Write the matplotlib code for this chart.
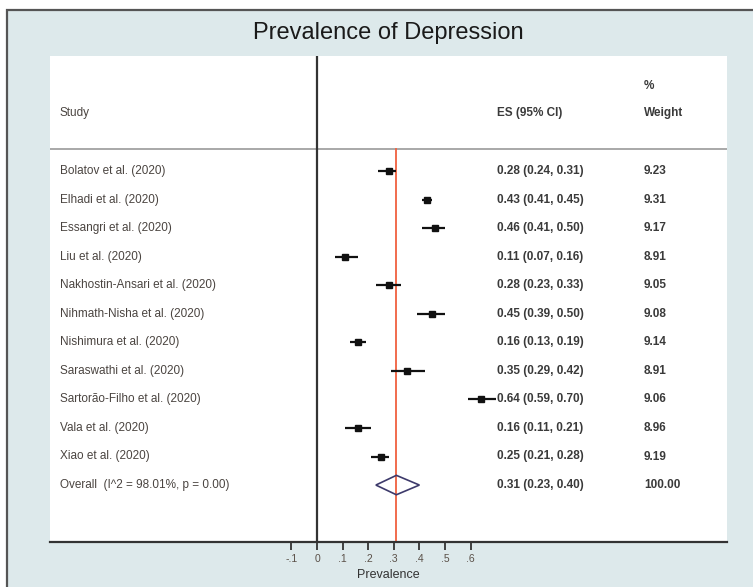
import matplotlib
matplotlib.use("Agg")
import matplotlib.pyplot as plt
from matplotlib.patches import Rectangle, Polygon
import numpy as np

plt.rcParams['font.family'] = ['Liberation Sans', 'DejaVu Sans']

# ---- data ----
studies = ["Bolatov et al. (2020)", "Elhadi et al. (2020)", "Essangri et al. (2020)",
           "Liu et al. (2020)", "Nakhostin-Ansari et al. (2020)", "Nihmath-Nisha et al. (2020)",
           "Nishimura et al. (2020)", "Saraswathi et al. (2020)", "Sartorão-Filho et al. (2020)",
           "Vala et al. (2020)", "Xiao et al. (2020)"]
es = [0.28, 0.43, 0.46, 0.11, 0.28, 0.45, 0.16, 0.35, 0.64, 0.16, 0.25]
ci_lo = [0.24, 0.41, 0.41, 0.07, 0.23, 0.39, 0.13, 0.29, 0.59, 0.11, 0.21]
ci_hi = [0.31, 0.45, 0.50, 0.16, 0.33, 0.50, 0.19, 0.42, 0.70, 0.21, 0.28]
weights = [9.23, 9.31, 9.17, 8.91, 9.05, 9.08, 9.14, 8.91, 9.06, 8.96, 9.19]
overall_label = "Overall  (I^2 = 98.01%, p = 0.00)"
overall_es, overall_lo, overall_hi, overall_w = 0.31, 0.23, 0.40, 100.00
tick_values = [-0.1, 0, 0.1, 0.2, 0.3, 0.4, 0.5, 0.6]
tick_labels = ["-.1", "0", ".1", ".2", ".3", ".4", ".5", ".6"]

W, H = 753, 587
fig = plt.figure(figsize=(W / 100, H / 100), dpi=100)
fig.patch.set_facecolor("white")

# outer bordered light background
fig.add_artist(Rectangle((7 / W, -0.05), 1.1, (H - 10) / H + 0.05, transform=fig.transFigure,
                         facecolor="#dde9eb", edgecolor="#555555", lw=1.6, zorder=0))

ax_l, ax_r, ax_t, ax_b = 50, 727, 56, 542
ax = fig.add_axes([ax_l / W, (H - ax_b) / H, (ax_r - ax_l) / W, (ax_b - ax_t) / H])
ax.set_facecolor("white")

# x mapping: 0 at px 317, 0.1 per 25.6 px
x0, ppu = 317, 256.0
ax.set_xlim((ax_l - x0) / ppu, (ax_r - x0) / ppu)
# y mapping: row i at 171 + 28.55 i
y0, rowh = 171, 28.55
ax.set_ylim((ax_b - y0) / rowh, (ax_t - y0) / rowh)

for s in ["top", "right", "left"]:
    ax.spines[s].set_visible(False)
ax.spines["bottom"].set_color("#333333")
ax.spines["bottom"].set_linewidth(1.6)
ax.set_yticks([])
ax.set_xticks(tick_values)
ax.set_xticklabels(tick_labels, fontsize=7.5, color="#5a5048")
ax.tick_params(axis="x", length=5.5, width=1.3, color="#333333", pad=3)
ax.set_xlabel("Prevalence", fontsize=9, color="#333333", va="center")
ax.xaxis.set_label_coords(0.5, -(575 - ax_b) / (ax_b - ax_t))

def px_y(py):
    return (py - y0) / rowh

# zero line
ax.axvline(0, color="#333333", lw=1.6, zorder=2)
# header separator
ax.axhline(px_y(148.5), color="#999999", lw=1.2, zorder=1)
# overall line
ax.plot([overall_es, overall_es], [px_y(149), (ax_b - y0) / rowh], color="#f0603f", lw=1.3, zorder=2)

n = len(studies)
rows = np.arange(n)
ax.hlines(rows, ci_lo, ci_hi, color="#111111", lw=1.6, zorder=3)
for i in range(n):
    ax.plot(es[i], rows[i], marker="s", color="#111111", ms=4.0 * np.sqrt(weights[i] / 9.1), zorder=4)

# overall diamond
yo = n
dh = 0.34
ax.add_patch(Polygon([[overall_lo, yo], [overall_es, yo - dh], [overall_hi, yo], [overall_es, yo + dh]],
                     closed=True, fill=False, edgecolor="#3d3a6b", lw=1.2, zorder=4))

# text columns
def axx(px):
    return (px - ax_l) / (ax_r - ax_l)

trans = ax.get_yaxis_transform()  # x in axes, y in data
tc = "#3a3a3a"
tc2 = "#4a4440"
fs = 8.5
ax.text(axx(60), px_y(113), "Study", fontsize=fs, color=tc2, va="center", ha="left", transform=trans)
ax.text(axx(497), px_y(113), "ES (95% CI)", fontsize=fs, color=tc, va="center", ha="left",
        transform=trans, fontweight="bold")
ax.text(axx(644), px_y(86), "%", fontsize=fs, color=tc, va="center", ha="left", transform=trans,
        fontweight="bold")
ax.text(axx(644), px_y(113), "Weight", fontsize=fs, color=tc, va="center", ha="left", transform=trans,
        fontweight="bold")

for i in range(n):
    ax.text(axx(60), rows[i], studies[i], fontsize=fs, color=tc2, va="center", ha="left", transform=trans)
    ax.text(axx(497), rows[i], f"{es[i]:.2f} ({ci_lo[i]:.2f}, {ci_hi[i]:.2f})", fontsize=fs, color=tc,
            va="center", ha="left", transform=trans, fontweight="bold")
    ax.text(axx(644), rows[i], f"{weights[i]:.2f}", fontsize=fs, color=tc, va="center", ha="left",
            transform=trans, fontweight="bold")
ax.text(axx(60), yo, overall_label, fontsize=fs, color=tc2, va="center", ha="left", transform=trans)
ax.text(axx(497), yo, f"{overall_es:.2f} ({overall_lo:.2f}, {overall_hi:.2f})", fontsize=fs, color=tc,
        va="center", ha="left", transform=trans, fontweight="bold")
ax.text(axx(644), yo, f"{overall_w:.2f}", fontsize=fs, color=tc, va="center", ha="left",
        transform=trans, fontweight="bold")

# title
fig.text(388 / W, 1 - 33 / H, "Prevalence of Depression", fontsize=17, color="#1a1a1a",
         ha="center", va="center")

fig.savefig("out.png", dpi=100, facecolor=fig.get_facecolor())
